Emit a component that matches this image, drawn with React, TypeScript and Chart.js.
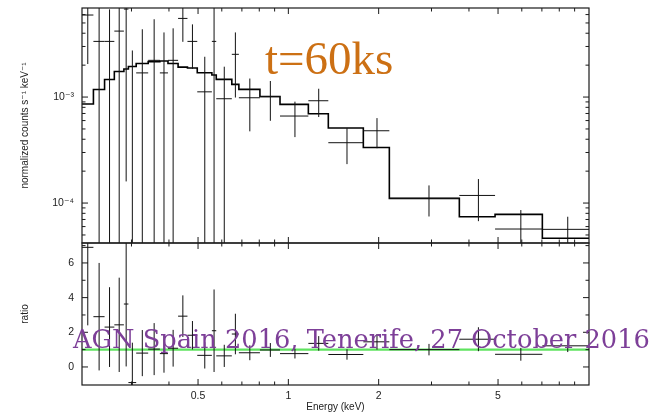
import React, { useEffect, useRef } from 'react';
import { Chart, registerables } from 'chart.js';

Chart.register(...registerables);

// ---------- data ----------
const BIN_EDGES = [0.2052, 0.224, 0.244, 0.263, 0.283, 0.293, 0.311, 0.341, 0.373, 0.397, 0.429, 0.461, 0.497, 0.556, 0.575, 0.648, 0.684, 0.804, 0.938, 1.166, 1.359, 1.778, 2.171, 3.715, 4.887, 7.025, 10.05];
const BIN_CENTERS = [0.2145, 0.234, 0.2535, 0.273, 0.288, 0.302, 0.326, 0.357, 0.385, 0.413, 0.445, 0.479, 0.5265, 0.5655, 0.6115, 0.666, 0.744, 0.871, 1.052, 1.2625, 1.5685, 1.9745, 2.943, 4.301, 5.956, 8.5375];
const MODEL = [8.59e-4, 1.177e-3, 1.463e-3, 1.741e-3, 1.837e-3, 1.94e-3, 2.07e-3, 2.161e-3, 2.187e-3, 2.07e-3, 1.917e-3, 1.877e-3, 1.694e-3, 1.613e-3, 1.469e-3, 1.318e-3, 1.182e-3, 1.011e-3, 8.53e-4, 6.95e-4, 5.11e-4, 3.34e-4, 1.107e-4, 7.43e-5, 7.82e-5, 4.65e-5];
const COUNTS = [5.94e-3, 3.35e-3, 3.35e-3, 4.19e-3, 6.76e-3, -1.75e-3, 1.69e-3, 2.22e-3, 1.69e-3, 2.22e-3, 5.52e-3, 3.35e-3, 1.12e-3, 3.35e-3, 9.64e-4, 2.53e-3, 9.85e-4, 1.007e-3, 6.62e-4, 9.23e-4, 3.71e-4, 4.81e-4, 1.107e-4, 1.18e-4, 5.69e-5, 5.65e-5];
const COUNTS_ERR = [3.89e-3, 3.65e-3, 3.37e-3, 4.74e-3, 6.6e-3, 4.5e-3, 2.67e-3, 3.2e-3, 2.38e-3, 2.23e-3, 2.2e-3, 1.5e-3, 1.28e-3, 3.83e-3, 9.7e-4, 1.54e-3, 5.1e-4, 4.1e-4, 2.43e-4, 2.75e-4, 1.38e-4, 1.52e-4, 3.6e-5, 5.05e-5, 2.9e-5, 1.78e-5];
const RATIO = [6.9, 2.9, 2.3, 2.43, 3.63, -0.9, 0.8, 1.03, 0.77, 1.08, 2.93, 1.83, 0.67, 2.09, 0.64, 1.9, 0.82, 0.98, 0.77, 1.36, 0.72, 1.45, 1.0, 1.6, 0.73, 1.22];
const RATIO_ERR = [4.5, 3.1, 2.3, 2.72, 3.6, 2.3, 1.33, 1.5, 1.1, 1.06, 1.2, 0.82, 0.76, 2.38, 0.64, 1.17, 0.43, 0.4, 0.28, 0.42, 0.3, 0.45, 0.33, 0.69, 0.37, 0.36];
const RATIO_REFERENCE = 1;

const X_MIN = 0.2052;
const X_MAX = 10.05;
const Y_MIN = 4.2e-5;
const Y_MAX = 6.92e-3;
const R_MIN = -1.04;
const R_MAX = 7.15;

const X_TICKS = [0.5, 1, 2, 5];
const X_TICK_LABELS = ['0.5', '1', '2', '5'];
const X_MINOR = [0.3, 0.4, 0.6, 0.7, 0.8, 0.9, 3, 4, 6, 7, 8, 9];
const Y_TICKS = [1e-4, 1e-3];
const Y_TICK_LABELS = ['10\u207B\u2074', '10\u207B\u00B3'];
const Y_MINOR = [5e-5, 6e-5, 7e-5, 8e-5, 9e-5, 2e-4, 3e-4, 4e-4, 5e-4, 6e-4, 7e-4, 8e-4, 9e-4, 2e-3, 3e-3, 4e-3, 5e-3, 6e-3];
const R_TICKS = [0, 2, 4, 6];
const R_TICK_LABELS = ['0', '2', '4', '6'];
const R_MINOR = [1, 3, 5, 7];

const FONT = '"Liberation Sans", "DejaVu Sans", Arial, sans-serif';
const TEXT_COLOR = '#222';

function drawCrosses(ctx: CanvasRenderingContext2D, xs: any, ys: any, vals: number[], errs: number[], isLog: boolean) {
  ctx.save();
  ctx.beginPath();
  ctx.rect(xs.left, ys.top, xs.right - xs.left, ys.bottom - ys.top);
  ctx.clip();
  ctx.strokeStyle = '#111';
  ctx.lineWidth = 1;
  ctx.beginPath();
  for (let i = 0; i < vals.length; i++) {
    const v = vals[i];
    const e = errs[i];
    const xc = xs.getPixelForValue(BIN_CENTERS[i]);
    const hiV = v + e;
    const loV = v - e;
    const pyHi = !isLog || hiV > 0 ? ys.getPixelForValue(hiV) : ys.bottom + 5;
    const pyLo = !isLog || loV > 0 ? ys.getPixelForValue(loV) : ys.bottom + 5;
    ctx.moveTo(xc, pyLo);
    ctx.lineTo(xc, pyHi);
    if (!isLog || v > 0) {
      const py = ys.getPixelForValue(v);
      ctx.moveTo(xs.getPixelForValue(BIN_EDGES[i]), py);
      ctx.lineTo(xs.getPixelForValue(BIN_EDGES[i + 1]), py);
    }
  }
  ctx.stroke();
  ctx.restore();
}

function drawFrame(chart: any) {
  const { ctx } = chart;
  const xs = chart.scales.x;
  const ys = chart.scales.y;
  const rs = chart.scales.yr;
  ctx.save();
  ctx.strokeStyle = '#1a1a1a';
  ctx.lineWidth = 1.2;
  for (const p of [ys, rs]) ctx.strokeRect(xs.left, p.top, xs.right - xs.left, p.bottom - p.top);
  ctx.lineWidth = 1;
  ctx.beginPath();
  const xt: [number, number][] = [...X_TICKS.map((v) => [v, 6] as [number, number]), ...X_MINOR.map((v) => [v, 3.5] as [number, number])];
  for (const [v, len] of xt) {
    const px = xs.getPixelForValue(v);
    for (const p of [ys, rs]) {
      ctx.moveTo(px, p.top);
      ctx.lineTo(px, p.top + len);
      ctx.moveTo(px, p.bottom);
      ctx.lineTo(px, p.bottom - len);
    }
  }
  const yt: [any, number, number][] = [
    ...Y_TICKS.map((v) => [ys, v, 6] as [any, number, number]),
    ...Y_MINOR.map((v) => [ys, v, 3.5] as [any, number, number]),
    ...R_TICKS.map((v) => [rs, v, 6] as [any, number, number]),
    ...R_MINOR.map((v) => [rs, v, 3.5] as [any, number, number]),
  ];
  for (const [s, v, len] of yt) {
    const py = s.getPixelForValue(v);
    ctx.moveTo(xs.left, py);
    ctx.lineTo(xs.left + len, py);
    ctx.moveTo(xs.right, py);
    ctx.lineTo(xs.right - len, py);
  }
  ctx.stroke();
  ctx.restore();
}

const spectrumPlugin = {
  id: 'spectrumCrosses',
  afterDatasetsDraw(chart: any) {
    const { ctx } = chart;
    drawCrosses(ctx, chart.scales.x, chart.scales.y, COUNTS, COUNTS_ERR, true);
    drawCrosses(ctx, chart.scales.x, chart.scales.yr, RATIO, RATIO_ERR, false);
    drawFrame(chart);
  },
};

function noPadding(s: any) {
  s.paddingTop = 0;
  s.paddingBottom = 0;
  s.paddingLeft = 0;
  s.paddingRight = 0;
}

export default function App() {
  const ref = useRef<HTMLCanvasElement>(null);

  useEffect(() => {
    const modelSteps: { x: number; y: number }[] = [];
    MODEL.forEach((m, i) => {
      modelSteps.push({ x: BIN_EDGES[i], y: m });
      modelSteps.push({ x: BIN_EDGES[i + 1], y: m });
    });
    const countsPts = COUNTS.map((v, i) => ({ x: BIN_CENTERS[i], y: v })).filter((p) => p.y > 0);
    const ratioPts = RATIO.map((v, i) => ({ x: BIN_CENTERS[i], y: v }));

    const tickFont = { family: FONT, size: 10.5 };
    const titleFont = { family: FONT, size: 10, lineHeight: 1.2 };

    const chart = new Chart(ref.current as HTMLCanvasElement, {
      type: 'scatter',
      data: {
        datasets: [
          {
            label: 'ratio = 1',
            data: [{ x: X_MIN, y: RATIO_REFERENCE }, { x: X_MAX, y: RATIO_REFERENCE }],
            yAxisID: 'yr',
            showLine: true,
            borderColor: '#5fe35f',
            borderWidth: 2.2,
            pointRadius: 0,
          },
          {
            label: 'model',
            data: modelSteps,
            yAxisID: 'y',
            showLine: true,
            borderColor: '#000',
            borderWidth: 1.6,
            pointRadius: 0,
          },
          { label: 'data', data: countsPts, yAxisID: 'y', pointRadius: 0 },
          { label: 'ratio', data: ratioPts, yAxisID: 'yr', pointRadius: 0 },
        ],
      } as any,
      options: {
        animation: false,
        responsive: false,
        events: [],
        layout: { padding: { left: 0, right: 69, top: 8, bottom: 0 } },
        plugins: { legend: { display: false }, tooltip: { enabled: false } },
        scales: {
          x: {
            type: 'logarithmic',
            position: 'bottom',
            min: X_MIN,
            max: X_MAX,
            bounds: 'data',
            grid: { display: false },
            border: { display: false },
            ticks: {
              padding: -3,
              color: TEXT_COLOR,
              font: tickFont,
              maxRotation: 0,
              autoSkip: false,
              callback: (v: any) => X_TICK_LABELS[X_TICKS.indexOf(Number(v))] ?? '',
            },
            afterBuildTicks: (s: any) => {
              s.ticks = X_TICKS.map((v) => ({ value: v }));
            },
            afterFit: (s: any) => {
              s.height = 27;
              noPadding(s);
            },
            title: { display: true, text: 'Energy (keV)', color: TEXT_COLOR, font: { family: FONT, size: 10, lineHeight: 1 }, padding: { top: 0, bottom: 0 } },
          },
          yr: {
            type: 'linear',
            position: 'left',
            stack: 'panels',
            stackWeight: 142,
            min: R_MIN,
            max: R_MAX,
            bounds: 'data',
            grid: { display: false },
            border: { display: false },
            ticks: {
              padding: 0,
              color: TEXT_COLOR,
              font: tickFont,
              autoSkip: false,
              callback: (v: any) => R_TICK_LABELS[R_TICKS.indexOf(Number(v))] ?? '',
            },
            afterBuildTicks: (s: any) => {
              s.ticks = R_TICKS.map((v) => ({ value: v }));
            },
            afterFit: (s: any) => {
              s.width = 82;
              noPadding(s);
            },
            title: { display: true, text: 'ratio', color: TEXT_COLOR, font: titleFont, padding: { top: 19, bottom: 0 } },
          },
          y: {
            type: 'logarithmic',
            position: 'left',
            stack: 'panels',
            stackWeight: 235,
            min: Y_MIN,
            max: Y_MAX,
            bounds: 'data',
            grid: { display: false },
            border: { display: false },
            ticks: {
              padding: 0,
              color: TEXT_COLOR,
              font: tickFont,
              autoSkip: false,
              callback: (v: any) => Y_TICK_LABELS[Y_TICKS.indexOf(Number(v))] ?? '',
            },
            afterBuildTicks: (s: any) => {
              s.ticks = Y_TICKS.map((v) => ({ value: v }));
            },
            afterFit: (s: any) => {
              s.width = 82;
              noPadding(s);
            },
            title: { display: true, text: 'normalized counts s\u207B\u00B9 keV\u207B\u00B9', color: TEXT_COLOR, font: titleFont, padding: { top: 19, bottom: 0 } },
          },
        },
      } as any,
      plugins: [spectrumPlugin],
    });
    return () => chart.destroy();
  }, []);

  return (
    <div>
      <canvas ref={ref} width={658} height={412} style={{ position: 'absolute', left: 0, top: 0, width: 658, height: 412 }} />
      <div
        style={{
          position: 'absolute',
          left: 265,
          top: 34.6,
          fontFamily: '"Liberation Serif", "Times New Roman", serif',
          fontSize: 47,
          lineHeight: '47px',
          color: '#cc7014',
          whiteSpace: 'nowrap',
          pointerEvents: 'none',
        }}
      >
        t=60ks
      </div>
      <div
        style={{
          position: 'absolute',
          left: 73,
          top: 326.6,
          fontFamily: '"DejaVu Serif", serif',
          fontSize: 25.7,
          lineHeight: '25.7px',
          color: '#7d3f98',
          whiteSpace: 'nowrap',
          pointerEvents: 'none',
        }}
      >
        AGN Spain 2016, Tenerife, 27 October 2016
      </div>
    </div>
  );
}
